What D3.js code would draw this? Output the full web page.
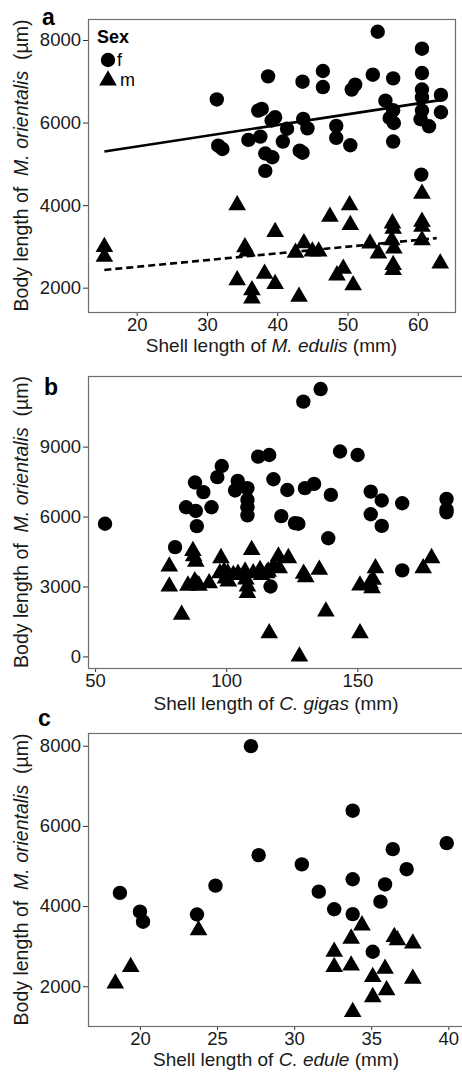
<!DOCTYPE html>
<html>
<head>
<meta charset="utf-8">
<script src="https://cdn.jsdelivr.net/npm/d3@7"></script>
<style>
  body { margin: 0; background: #fff; }
  svg { display: block; font-family: "Liberation Sans", Arial, sans-serif; }
</style>
</head>
<body>
<div id="vis"></div>
<script>
// ---- data: [shell length (mm), body length (um)] ----
var aFemale = [[31.4,6560],[31.6,5440],[32.2,5360],[35.9,5580],[37.3,6290],[37.8,6330],[37.6,5660],
  [38.3,5250],[39.3,5160],[38.3,4830],[38.7,7120],[39.2,6050],[39.7,6130],[41.4,5850],[40.8,5540],
  [43.6,6990],[43.7,6090],[44.3,5860],[43.2,5320],[43.6,5270],[46.5,7250],[46.5,6860],[48.4,5920],
  [48.4,5630],[50.4,5450],[50.6,6800],[51.1,6920],[53.6,7160],[54.3,8200],[56.5,7070],[55.4,6530],
  [56.5,6300],[56,6110],[56.6,5990],[56.5,5540],[60.6,7790],[60.6,7200],[60.6,6800],[60.6,6610],
  [60.6,6290],[60.4,6080],[61.6,5910],[63.3,6670],[63.3,6250],[60.5,4740]];
var aMale = [[15.4,2990],[15.4,2750],[34.3,4000],[35.4,2980],[35.7,2880],[34.3,2180],[36.4,1940],
  [36.4,1740],[38.2,2340],[39.7,3350],[39.7,2090],[43.1,1780],[42.6,2850],[43.8,3080],[45.0,2880],
  [45.9,2880],[47.5,3720],[50.3,4000],[50.4,3520],[48.5,2300],[49.4,2460],[50.8,2060],[53.2,3070],
  [54.4,2830],[56.4,3560],[56.5,3430],[56.3,3150],[56.6,2950],[56.5,2550],[56.5,2430],[60.6,4280],
  [60.6,3600],[60.6,3480],[60.6,3150],[63.2,2590]];
var aFitFemale = [[15.4,5300],[63.4,6550]];
var aFitMale = [[15.4,2430],[62.7,3200]];

var bFemale = [[53.8,5690],[80.5,4690],[84.7,6400],[88.4,6240],[88.8,5590],[88.1,7460],[91.3,7050],
  [94.4,6400],[96.6,7690],[98.3,8170],[103.4,7120],[104.4,7530],[108.1,7220],[108.1,6720],[108.1,6400],
  [108.1,6050],[112.2,8570],[116.4,8640],[116.9,3000],[118,7600],[121,6020],[123.3,7140],[126.2,5720],
  [127.5,5690],[129.4,10930],[130,7220],[133.5,7400],[136,11470],[138.9,5070],[139.9,6930],[143.4,8790],
  [150.1,8640],[155.1,7070],[155.1,6100],[159.3,6690],[159.3,5600],[167.1,6570],[167.1,3690],
  [184,6760],[184,6300],[184,6180]];
var bMale = [[78.3,3860],[78.3,3000],[83,1790],[85.4,3040],[87.3,4530],[87.6,4300],[88.4,4070],
  [88,3230],[89.6,3040],[88.8,3100],[93.5,3140],[98,4220],[97.6,3570],[99.2,3640],[100.6,3570],
  [100.8,3220],[99.7,3350],[102.7,3500],[104.5,3550],[107.2,3640],[107.5,3300],[108.1,3000],
  [108.1,2720],[110.3,3570],[109.7,4570],[112.9,3710],[113.5,3500],[115.4,3570],[116,3640],
  [118,3860],[119.9,4290],[120.2,3790],[123.7,4220],[116.4,1000],[127.9,0],[129.5,3550],[130.3,3400],
  [135.5,3720],[138,1930],[151,1000],[151,3050],[154.8,3140],[155.6,2930],[156,3290],[156.9,3790],
  [175.1,3790],[178.3,4220]];

var cFemale = [[27.2,7990],[33.8,6380],[27.7,5270],[30.5,5040],[36.4,5420],[39.9,5570],[37.3,4920],
  [33.8,4670],[35.9,4540],[24.9,4510],[31.6,4360],[18.7,4330],[20,3860],[20.2,3610],[23.7,3790],
  [32.6,3920],[33.8,3800],[35.6,4110],[35.1,2860]];
var cMale = [[18.4,2070],[19.4,2480],[23.8,3400],[32.6,2860],[32.6,2480],[33.7,3190],[33.7,2520],
  [34.4,3520],[35.1,2230],[35.1,1730],[33.8,1360],[35.9,2440],[36,1900],[36.5,3230],[36.7,3150],
  [37.7,3070],[37.7,2190]];

var aXTicks = [20, 30, 40, 50, 60], aYTicks = [2000, 4000, 6000, 8000];
var bXTicks = [50, 100, 150],        bYTicks = [0, 3000, 6000, 9000];
var cXTicks = [20, 25, 30, 35, 40],  cYTicks = [2000, 4000, 6000, 8000];

var legendSex = ["f", "m"];

// ---- layout ----
var width = 462, height = 1073;

var panels = [
  { letter: "a", female: aFemale, male: aMale, xTicks: aXTicks, yTicks: aYTicks,
    top: 19, bottom: 312, left: 88, right: 455, closed: true,
    xDomain: [13.07, 65.3], yDomain: [1411, 8509],
    host: "M. edulis", letterPos: [42, 25], xTitleY: 352, legend: true,
    fits: [{ d: aFitFemale, dash: null }, { d: aFitMale, dash: "7,4" }] },
  { letter: "b", female: bFemale, male: bMale, xTicks: bXTicks, yTicks: bYTicks,
    top: 376, bottom: 668, left: 88, right: 462, closed: false,
    xDomain: [47.3, 189.9], yDomain: [-497, 12030],
    host: "C. gigas", letterPos: [44, 395], xTitleY: 710, fits: [] },
  { letter: "c", female: cFemale, male: cMale, xTicks: cXTicks, yTicks: cYTicks,
    top: 733, bottom: 1026, left: 88, right: 462, closed: false,
    xDomain: [16.63, 40.89], yDomain: [1008, 8318],
    host: "C. edule", letterPos: [38, 726], xTitleY: 1066, fits: [] }
];

var svg = d3.select("#vis").append("svg")
    .attr("width", width)
    .attr("height", height);

var triangle = d3.symbol().type(d3.symbolTriangle).size(135);

panels.forEach(function(p) {
    var x = d3.scaleLinear().domain(p.xDomain).range([p.left, p.right]);
    var y = d3.scaleLinear().domain(p.yDomain).range([p.bottom, p.top]);

    var g = svg.append("g");

    // axes
    var gx = g.append("g")
        .attr("transform", "translate(0," + p.bottom + ")")
        .call(d3.axisBottom(x).tickValues(p.xTicks).tickSize(4).tickPadding(2).tickFormat(d3.format("d")));
    var gy = g.append("g")
        .attr("transform", "translate(" + p.left + ",0)")
        .call(d3.axisLeft(y).tickValues(p.yTicks).tickSize(5).tickPadding(2).tickFormat(d3.format("d")));

    [gx, gy].forEach(function(a) {
        a.select(".domain").remove();
        a.selectAll(".tick line").attr("stroke", "#333");
        a.selectAll(".tick text").attr("fill", "#1a1a1a").style("font-size", "18.5px")
            .style("font-family", '"Liberation Sans", Arial, sans-serif');
    });

    // panel border (b and c run off the right edge)
    g.append("rect")
        .attr("x", p.left + 0.5)
        .attr("y", p.top + 0.5)
        .attr("width", (p.closed ? p.right - p.left : p.right - p.left + 20))
        .attr("height", p.bottom - p.top)
        .attr("fill", "none")
        .attr("stroke", "#6e6e6e")
        .attr("stroke-width", 1.2);

    // fit lines
    p.fits.forEach(function(f) {
        g.append("path")
            .datum(f.d)
            .attr("d", d3.line().x(function(d) { return x(d[0]); }).y(function(d) { return y(d[1]); }))
            .attr("fill", "none")
            .attr("stroke", "#000")
            .attr("stroke-width", 2.6)
            .attr("stroke-dasharray", f.dash);
    });

    // points
    g.selectAll(".f").data(p.female).enter().append("circle")
        .attr("class", "f")
        .attr("cx", function(d) { return x(d[0]); })
        .attr("cy", function(d) { return y(d[1]); })
        .attr("r", 7.2)
        .attr("fill", "#000");

    g.selectAll(".m").data(p.male).enter().append("path")
        .attr("class", "m")
        .attr("d", triangle)
        .attr("transform", function(d) { return "translate(" + x(d[0]) + "," + y(d[1]) + ")"; })
        .attr("fill", "#000");

    // panel letter
    g.append("text")
        .attr("x", p.letterPos[0])
        .attr("y", p.letterPos[1])
        .style("font-size", "23px")
        .style("font-weight", "bold")
        .text(p.letter);

    // x title
    var xt = g.append("text")
        .attr("x", (p.left + p.right) / 2 + (p.closed ? 0 : 1))
        .attr("y", p.xTitleY)
        .attr("text-anchor", "middle")
        .style("font-size", "19px")
        .attr("fill", "#1a1a1a");
    xt.append("tspan").text("Shell length of ");
    xt.append("tspan").style("font-style", "italic").text(p.host);
    xt.append("tspan").text(" (mm)");

    // y title
    var yt = g.append("text")
        .attr("transform", "translate(28," + ((p.top + p.bottom) / 2) + ") rotate(-90)")
        .attr("text-anchor", "middle")
        .style("font-size", "19.5px")
        .attr("fill", "#1a1a1a");
    yt.append("tspan").text("Body length of \u00a0");
    yt.append("tspan").style("font-style", "italic").text("M. orientalis");
    yt.append("tspan").text("\u00a0 (\u00b5m)");

    // legend
    if (p.legend) {
        var lg = g.append("g");
        lg.append("text").attr("x", 97).attr("y", 43)
            .style("font-size", "18px").style("font-weight", "bold").text("Sex");
        lg.append("circle").attr("cx", 108).attr("cy", 60).attr("r", 7.2).attr("fill", "#000");
        lg.append("path").attr("d", triangle).attr("transform", "translate(108,80.5)").attr("fill", "#000");
        lg.selectAll(".lt").data(legendSex).enter().append("text")
            .attr("x", function(d, i) { return i === 0 ? 117 : 120; })
            .attr("y", function(d, i) { return 66 + i * 20; })
            .style("font-size", "18px")
            .text(function(d) { return d; });
    }
});
</script>
</body>
</html>
